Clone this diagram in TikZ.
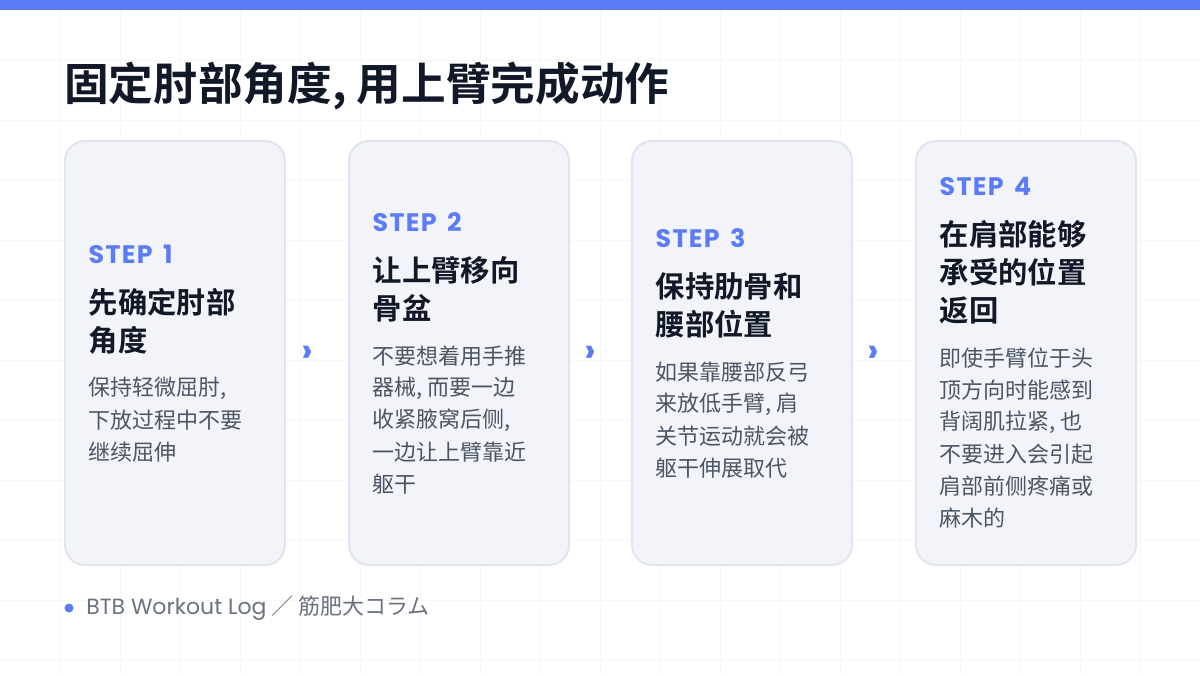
\documentclass[tikz,border=0pt]{standalone}
\usepackage{fontspec}
\setmainfont{Noto Sans CJK SC}[BoldFont={* Bold}]
\newfontfamily\cjk{Noto Sans CJK SC}[BoldFont={* Bold}]
\newfontfamily\pop{Poppins}[BoldFont={* Bold}]
\newfontfamily\popsp{Poppins}[BoldFont={* Bold},LetterSpace=5,WordSpace=1.6]
\definecolor{accent}{HTML}{5B7CF5}
\definecolor{cardfill}{HTML}{F3F4FA}
\definecolor{cardline}{HTML}{E1E5EF}
\definecolor{ink}{HTML}{111827}
\definecolor{body}{HTML}{4B5563}
\definecolor{foot}{HTML}{6B7280}
\definecolor{gridc}{HTML}{F6F7F9}
\begin{document}
\begin{tikzpicture}[x=0.75pt,y=-0.75pt,
  card/.style={draw=cardline,line width=1.5pt,fill=cardfill,rounded corners=15pt},
  stp/.style={anchor=west,text=accent,font=\popsp\bfseries\fontsize{19}{20}\selectfont},
  ttl/.style={anchor=west,text=ink,font=\cjk\bfseries\fontsize{22}{28.5}\selectfont},
  bod/.style={anchor=west,text=body,font=\cjk\fontsize{16.5}{24}\selectfont},
  arr/.style={text=accent,font=\pop\bfseries\fontsize{26}{28}\selectfont}]
\useasboundingbox (0,0) rectangle (1200,675);
\fill[white] (0,0) rectangle (1200,675);
\foreach \i in {1,...,19} \draw[gridc,line width=0.75pt] (\i*60,0) -- (\i*60,675);
\foreach \j in {1,...,11} \draw[gridc,line width=0.75pt] (0,\j*60) -- (1200,\j*60);
\fill[accent] (0,0) rectangle (1200,10);
\node[anchor=west,text=ink,font=\cjk\bfseries\fontsize{33.5}{40}\selectfont,inner sep=0] (title) at (64,86) {固定肘部角度, 用上臂完成动作};
\foreach \x in {65,349,632,916}
  \draw[card] (\x,141) rectangle (\x+220,565);
% card 1
\node[stp] (s1) at (84,254) {STEP 1};
\node[ttl] (t1a) at (84,302) {先确定肘部};
\node[ttl] (t1b) at (84,340) {角度};
\node[bod] (b1a) at (84,388) {保持轻微屈肘,};
\node[bod] (b1b) at (84,420) {下放过程中不要};
\node[bod] (b1c) at (84,452) {继续屈伸};
% card 2
\node[stp] (s2) at (368,222) {STEP 2};
\node[ttl] (t2a) at (368,270) {让上臂移向};
\node[ttl] (t2b) at (368,308) {骨盆};
\node[bod] (b2a) at (368,356) {不要想着用手推};
\node[bod] (b2b) at (368,388) {器械, 而要一边};
\node[bod] (b2c) at (368,420) {收紧腋窝后侧,};
\node[bod] (b2d) at (368,452) {一边让上臂靠近};
\node[bod] (b2e) at (368,484) {躯干};
% card 3
\node[stp] (s3) at (651,238) {STEP 3};
\node[ttl] (t3a) at (651,286) {保持肋骨和};
\node[ttl] (t3b) at (651,324) {腰部位置};
\node[bod] (b3a) at (651,372) {如果靠腰部反弓};
\node[bod] (b3b) at (651,404) {来放低手臂, 肩};
\node[bod] (b3c) at (651,436) {关节运动就会被};
\node[bod] (b3d) at (651,468) {躯干伸展取代};
% card 4
\node[stp] (s4) at (935,186) {STEP 4};
\node[ttl] (t4a) at (935,234) {在肩部能够};
\node[ttl] (t4b) at (935,272) {承受的位置};
\node[ttl] (t4c) at (935,310) {返回};
\node[bod] (b4a) at (935,358) {即使手臂位于头};
\node[bod] (b4b) at (935,390) {顶方向时能感到};
\node[bod] (b4c) at (935,422) {背阔肌拉紧, 也};
\node[bod] (b4d) at (935,454) {不要进入会引起};
\node[bod] (b4e) at (935,486) {肩部前侧疼痛或};
\node[bod] (b4f) at (935,518) {麻木的};
% arrows
\node[arr] (a1) at (307,354) {›};
\node[arr] (a2) at (590,354) {›};
\node[arr] (a3) at (873,354) {›};
% footer
\fill[accent] (69,608) circle (4.5);
\node[anchor=west,text=foot,font=\fontsize{16.5}{18}\selectfont,inner sep=0] (ft) at (86,608) {{\pop BTB Workout Log} ／ 筋肥大コラム};
\end{tikzpicture}
\end{document}
